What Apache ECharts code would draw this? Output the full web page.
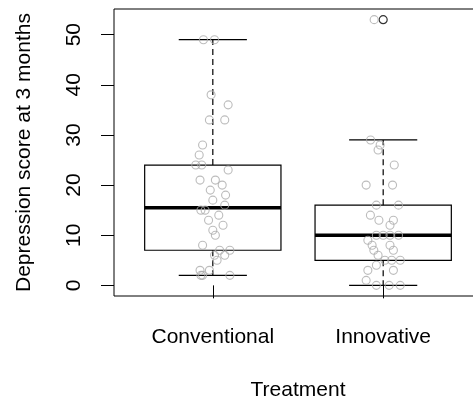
<!DOCTYPE html>
<html>
<head>
<meta charset="utf-8">
<script src="https://cdn.jsdelivr.net/npm/echarts@6/dist/echarts.min.js"></script>
<style>
  html, body { margin: 0; padding: 0; background: #ffffff; }
  #chart { width: 473px; height: 403px; }
</style>
</head>
<body>
<div id="chart"></div>
<script>
const categories = ['Conventional', 'Innovative'];
const yTicks = [0, 10, 20, 30, 40, 50];
const yLabel = 'Depression score at 3 months';
const xLabel = 'Treatment';

// Depression scores and horizontal jitter offsets (category units)
const conventionalScores = [49, 49, 38, 36, 33, 33, 28, 26, 24, 24, 23, 21, 21, 20, 19, 18, 17, 16, 15, 15, 14, 13, 12, 11, 10, 8, 7, 7, 6, 6, 5, 3, 3, 2, 2, 2];
const conventionalJitter = [-0.055, 0.01, -0.01, 0.09, -0.02, 0.07, -0.06, -0.08, -0.1, -0.065, 0.09, -0.075, 0.015, 0.055, -0.015, 0.075, 0, 0.07, -0.07, -0.045, 0.035, -0.025, 0.06, 0, 0.015, -0.06, 0.04, 0.1, 0.01, 0.07, 0.025, -0.075, -0.02, -0.07, -0.06, 0.1];
const innovativeScores = [53, 29, 28, 27, 24, 20, 20, 16, 16, 14, 13, 13, 12, 10, 10, 10, 10, 9, 8, 8, 7, 7, 6, 5, 5, 5, 4, 3, 3, 1, 0, 0, 0];
const innovativeJitter = [-0.053, -0.074, -0.018, -0.03, 0.065, -0.1, 0.055, -0.04, 0.09, -0.075, -0.025, 0.06, 0.04, -0.04, 0, 0.04, 0.09, -0.09, -0.065, 0.04, -0.055, 0.06, -0.03, 0.01, 0.05, 0.1, -0.04, -0.09, 0.06, -0.1, -0.04, 0.035, 0.1];

const groups = [conventionalScores, innovativeScores];
const jitters = [conventionalJitter, innovativeJitter];

// Tukey five-number summary (like R's boxplot)
function fivenum(arr) {
  const s = arr.slice().sort((a, b) => a - b);
  const n = s.length;
  const n4 = Math.floor((n + 3) / 2) / 2;
  const d = [1, n4, (n + 1) / 2, n + 1 - n4, n];
  return d.map(v => 0.5 * (s[Math.floor(v) - 1] + s[Math.ceil(v) - 1]));
}
const boxData = [];
const outlierData = [];
groups.forEach((g, i) => {
  const f = fivenum(g);
  const iqr = f[3] - f[1];
  const lo = f[1] - 1.5 * iqr, hi = f[3] + 1.5 * iqr;
  const inside = g.filter(v => v >= lo && v <= hi);
  const wLo = Math.min(...inside), wHi = Math.max(...inside);
  boxData.push([i + 1, wLo, f[1], f[2], f[3], wHi]);
  g.filter(v => v < lo || v > hi).forEach(v => outlierData.push([i + 1, v]));
});
const pointData = [];
groups.forEach((g, i) => g.forEach((v, j) => pointData.push([i + 1 + jitters[i][j], v])));

const FONT = 'Liberation Sans, Arial, sans-serif';
const chart = echarts.init(document.getElementById('chart'), null, { renderer: 'canvas' });

chart.setOption({
  animation: false,
  backgroundColor: '#ffffff',
  grid: {
    left: 114, top: 9, right: -9, bottom: 107,
    show: true, borderColor: '#000000', borderWidth: 1, backgroundColor: 'transparent',
    outerBoundsMode: 'none'
  },
  xAxis: {
    type: 'value', min: 0.42, max: 2.58,
    name: xLabel, nameLocation: 'middle', nameGap: 84,
    nameTextStyle: { fontFamily: FONT, fontSize: 21, color: '#000' },
    axisLine: { show: false },
    splitLine: { show: false },
    axisTick: { show: true, customValues: [1, 2], length: 13, lineStyle: { color: '#000', width: 1 } },
    axisLabel: {
      customValues: [1, 2], margin: 31,
      formatter: v => categories[Math.round(v) - 1],
      fontFamily: FONT, fontSize: 21, color: '#000'
    }
  },
  yAxis: {
    type: 'value', min: -2.12, max: 55.12,
    name: yLabel, nameLocation: 'middle', nameGap: 79, nameRotate: 90,
    nameTextStyle: { fontFamily: FONT, fontSize: 21, color: '#000' },
    axisLine: { show: false },
    splitLine: { show: false },
    axisTick: { show: true, customValues: yTicks, length: 13, lineStyle: { color: '#000', width: 1 } },
    axisLabel: {
      customValues: yTicks, rotate: 90, margin: 29,
      fontFamily: FONT, fontSize: 21, color: '#000'
    }
  },
  series: [
    {
      type: 'custom',
      data: boxData,
      z: 2,
      renderItem: function (params, api) {
        const x = api.value(0);
        const mn = api.value(1), q1 = api.value(2), md = api.value(3), q3 = api.value(4), mx = api.value(5);
        const hw = 0.4, cw = 0.2;
        const c = (a, b) => api.coord([a, b]);
        const line = (p1, p2, style) => ({
          type: 'line',
          shape: { x1: p1[0], y1: p1[1], x2: p2[0], y2: p2[1] },
          style: Object.assign({ stroke: '#000', lineWidth: 1.2, fill: null }, style)
        });
        const tl = c(x - hw, q3), br = c(x + hw, q1);
        return {
          type: 'group',
          children: [
            line(c(x, q3), c(x, mx), { lineDash: [6, 4] }),
            line(c(x, q1), c(x, mn), { lineDash: [6, 4] }),
            line(c(x - cw, mx), c(x + cw, mx), {}),
            line(c(x - cw, mn), c(x + cw, mn), {}),
            {
              type: 'rect',
              shape: { x: tl[0], y: tl[1], width: br[0] - tl[0], height: br[1] - tl[1] },
              style: { fill: 'transparent', stroke: '#000', lineWidth: 1.2 }
            },
            line(c(x - hw, md), c(x + hw, md), { lineWidth: 3.5 })
          ]
        };
      }
    },
    {
      type: 'scatter',
      data: outlierData,
      z: 3,
      symbol: 'circle', symbolSize: 8,
      itemStyle: { color: 'rgba(0,0,0,0)', borderColor: '#000', borderWidth: 1.2 }
    },
    {
      type: 'scatter',
      data: pointData,
      z: 4,
      symbol: 'circle', symbolSize: 8,
      itemStyle: { color: 'rgba(0,0,0,0)', borderColor: '#ababab', borderWidth: 1.1 }
    }
  ]
});
</script>
</body>
</html>
